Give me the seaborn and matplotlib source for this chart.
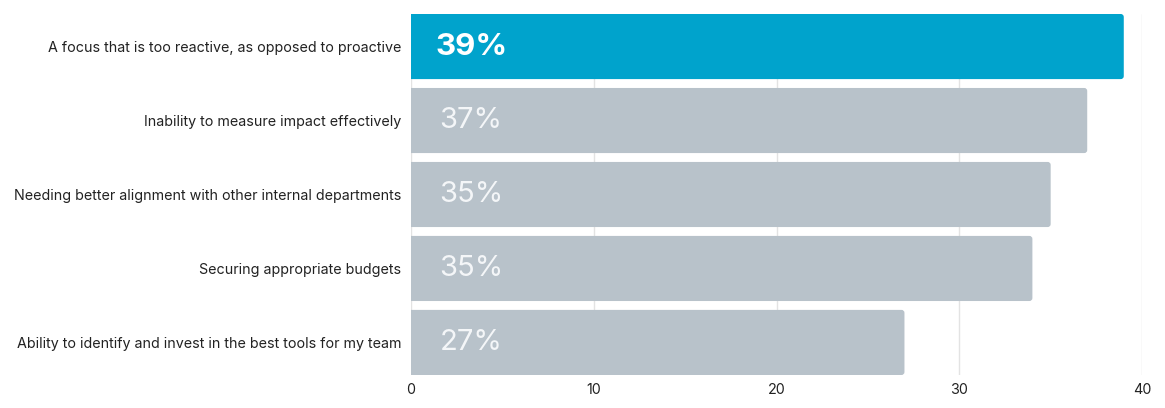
import matplotlib
matplotlib.use('Agg')
import pandas as pd
import matplotlib.pyplot as plt
import seaborn as sns
from matplotlib.patches import FancyBboxPatch

challenges = [
    'A focus that is too reactive, as opposed to proactive',
    'Inability to measure impact effectively',
    'Needing better alignment with other internal departments',
    'Securing appropriate budgets',
    'Ability to identify and invest in the best tools for my team',
]
values = [39, 37, 35, 34, 27]
labels = ['39%', '37%', '35%', '35%', '27%']
highlight = [True, False, False, False, False]

df = pd.DataFrame({'challenge': challenges, 'value': values})

sns.set_theme(style='white')
plt.rcParams['font.family'] = ['Inter', 'DejaVu Sans']

fig = plt.figure(figsize=(11.65, 4.08), dpi=100)
ax = fig.add_axes([0.3528, 0.0809, 0.6275, 0.8848])

colors = ['#00A3CC' if h else '#B8C2CA' for h in highlight]
sns.barplot(data=df, x='value', y='challenge', hue='challenge', palette=colors,
            legend=False, width=0.88, saturation=1, ax=ax, zorder=2)

ax.set_xlim(0, 40)
ax.set_ylim(4.44, -0.44)

# swap plain bars for ones with slightly rounded corners
xpp = 40 / 731
ypp = 4.88 / 361
for p in list(ax.patches):
    x, y = p.get_x(), p.get_y()
    w, h = p.get_width(), p.get_height()
    fc = p.get_facecolor()
    p.remove()
    ax.add_patch(FancyBboxPatch((x - 0.3, y), w + 0.3, h,
                                boxstyle='round,pad=0,rounding_size=%f' % (3 * xpp),
                                mutation_aspect=ypp / xpp, fc=fc, ec='none',
                                zorder=2, clip_on=True))

for i, (lab, h) in enumerate(zip(labels, highlight)):
    if h:
        ax.text(1.35, i, lab, color='white', fontsize=22.5, fontweight='bold',
                va='center', ha='left', zorder=3)
    else:
        ax.text(1.55, i, lab, color='#F4F6F8', fontsize=21, va='center',
                ha='left', zorder=3)

ax.set_xticks([0, 10, 20, 30, 40])
ax.xaxis.grid(True, color='#E3E3E3', linewidth=1)
ax.set_axisbelow(True)
for s in ax.spines.values():
    s.set_visible(False)
ax.tick_params(axis='both', length=0, labelsize=10.3, colors='#222222')
ax.tick_params(axis='y', pad=7)
ax.tick_params(axis='x', pad=6)
ax.set_xlabel('')
ax.set_ylabel('')

fig.savefig('out.png', dpi=100)
